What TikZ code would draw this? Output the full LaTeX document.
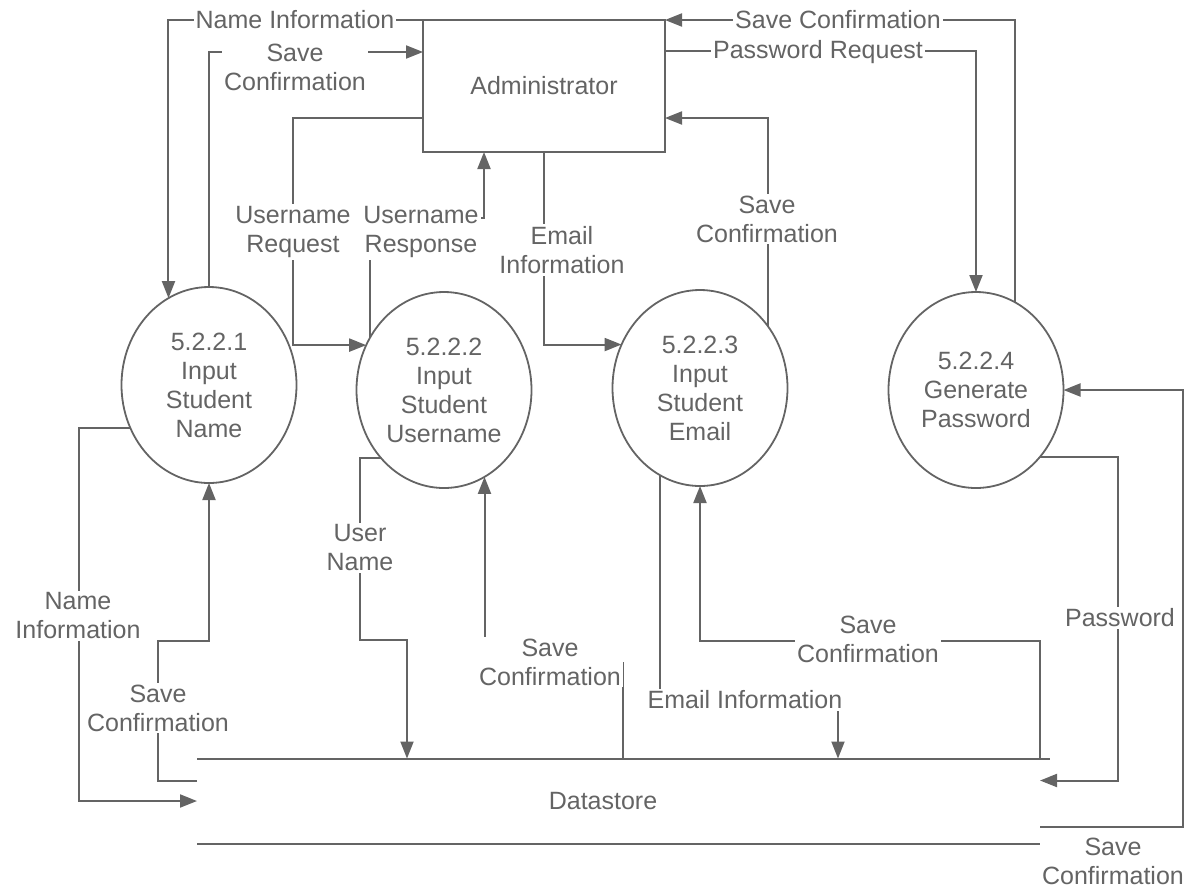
\documentclass[tikz,border=0pt]{standalone}
\usepackage{fontspec}
\setmainfont{Liberation Sans}
\usetikzlibrary{shapes.geometric,arrows.meta}
\definecolor{flowgray}{RGB}{100,100,100}
\definecolor{textgray}{RGB}{100,100,100}

\begin{document}
\begin{tikzpicture}[x=0.5pt,y=-0.5pt,
    font=\fontsize{12.5}{14.5}\selectfont, text=textgray,
    process/.style={ellipse,draw=flowgray,line width=0.9pt,minimum width=87.5pt,minimum height=98pt,inner sep=0pt,outer sep=0pt,align=center},
    entity/.style={rectangle,draw=flowgray,line width=0.9pt,minimum width=121pt,minimum height=66pt,outer sep=0pt},
    store/.style={minimum width=426.5pt,minimum height=42.5pt,inner sep=0pt,outer sep=0pt},
    flow/.style={draw=flowgray,line width=1pt,-{Triangle[length=8.5pt,width=6.5pt]}},
    storeline/.style={draw=flowgray,line width=1pt},
    flowlabel/.style={fill=white,align=center,inner sep=1pt}]
\useasboundingbox (0,0) rectangle (1184,890);

\node[entity] (admin) at (544,86) {Administrator};
\node[process] (p1) at (209,385) {5.2.2.1\\Input\\Student\\Name};
\node[process] (p2) at (444,390) {5.2.2.2\\Input\\Student\\Username};
\node[process] (p3) at (700,388) {5.2.2.3\\Input\\Student\\Email};
\node[process] (p4) at (976,390) {5.2.2.4\\Generate\\Password};
\node[store] (ds) at (623.5,801) {};
\node (dsname) at (603,801) {Datastore};
\draw[storeline] (ds.north west) -- (ds.north east);
\draw[storeline] (ds.south west) -- (ds.south east);

\draw[flow] (admin.north west) -| (p1.115);
\draw[flow] (p1.north) |- ([yshift=17pt]admin.west);
\draw[flow] ([yshift=-16pt]admin.west) -- ++(-130,0) |- (p2.150);
\draw[flow] (p2.145) -- ++(0,-120) -| ([xshift=-30pt]admin.south);
\draw[flow] (admin.south) |- (p3.151);
\draw[flow] (p3.42) |- ([yshift=-16pt]admin.east);
\draw[flow] ([yshift=17.5pt]admin.east) -| (p4.north);
\draw[flow] (p4.66) |- (admin.north east);

\draw[flow] (p1.209) -- ++(-52,0) |- (ds.west);
\draw[flow] ([yshift=-11pt]ds.north west) -- ++(-39,0) -- ++(0,-140) -| (p1.south);
\draw[flow] (p2.227) -- ++(-21,0) -- ++(0,182) -| (407,0 |- ds.north);
\draw[flow] (623,0 |- ds.north) -- ++(0,-96) -| (p2.295);
\draw[flow] (p3.245) -- ++(0,225) -| (838,0 |- ds.north);
\draw[flow] ([xshift=-5pt]ds.north east) -- ++(0,-118) -| (p3.south);
\draw[flow] (p4.314) -- ++(78,0) |- ([xshift=-5pt,yshift=-11pt]ds.north east);
\draw[flow] ([xshift=-5pt,yshift=-34pt]ds.north east) -- ++(143,0) |- (p4.east);

\node[flowlabel] (l1) at (295,20) {Name Information};
\node[flowlabel] (l2) at (295,67) {Save\\Confirmation};
\node[flowlabel] (l3) at (838,20) {Save Confirmation};
\node[flowlabel] (l4) at (818,52) {Password Request};
\node[flowlabel] (l5) at (293,232) {Username\\Request};
\node[flowlabel] (l6) at (421,232) {Username\\Response};
\node[flowlabel] (l7) at (562,250) {Email\\Information};
\node[flowlabel] (l8) at (767,219) {Save\\Confirmation};
\node[flowlabel] (l9) at (78,616) {Name\\Information};
\node[flowlabel] (l10) at (158,708) {Save\\Confirmation};
\node[flowlabel] (l11) at (360,548) {User\\Name};
\node[flowlabel] (l12) at (550,662) {Save\\Confirmation};
\node[flowlabel] (l13) at (745,700) {Email Information};
\node[flowlabel] (l14) at (868,639) {Save\\Confirmation};
\node[flowlabel] (l15) at (1120,618) {Password};
\node[flowlabel] (l16) at (1113,861) {Save\\Confirmation};
\end{tikzpicture}
\end{document}
